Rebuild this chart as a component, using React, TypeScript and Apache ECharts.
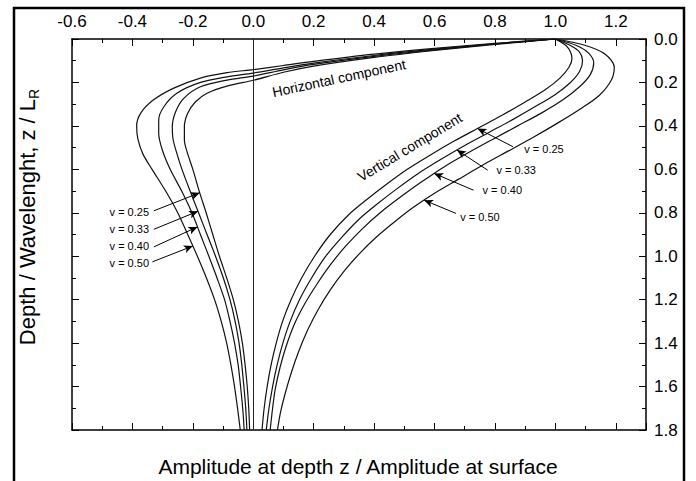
import React, { useEffect, useRef } from "react";
import * as echarts from "echarts";

// Amplitude (x) vs depth z/L_R (y)
const horizontal025 = [[1,0],[0.8,0.025],[0.6,0.053],[0.4,0.085],[0.2,0.125],[0.1,0.153],[0,0.19],[-0.087,0.217],[-0.153,0.25],[-0.191,0.289],[-0.217,0.342],[-0.228,0.404],[-0.228,0.465],[-0.219,0.52],[-0.2,0.6],[-0.179,0.7],[-0.156,0.8],[-0.134,0.9],[-0.112,1.0],[-0.088,1.1],[-0.066,1.2],[-0.049,1.3],[-0.036,1.4],[-0.027,1.5],[-0.02,1.6],[-0.015,1.7],[-0.012,1.8]];
const horizontal033 = [[1,0],[0.8,0.023],[0.6,0.05],[0.4,0.08],[0.2,0.117],[0.1,0.142],[0,0.171],[-0.087,0.189],[-0.175,0.22],[-0.23,0.273],[-0.257,0.335],[-0.268,0.404],[-0.265,0.465],[-0.25,0.54],[-0.236,0.6],[-0.209,0.7],[-0.181,0.8],[-0.153,0.9],[-0.125,1.0],[-0.099,1.1],[-0.077,1.2],[-0.06,1.3],[-0.047,1.4],[-0.038,1.5],[-0.031,1.6],[-0.025,1.7],[-0.021,1.8]];
const horizontal040 = [[1,0],[0.8,0.022],[0.6,0.047],[0.4,0.076],[0.2,0.111],[0.1,0.133],[0,0.157],[-0.087,0.174],[-0.175,0.2],[-0.253,0.25],[-0.296,0.312],[-0.313,0.373],[-0.313,0.435],[-0.301,0.511],[-0.275,0.6],[-0.237,0.7],[-0.203,0.8],[-0.175,0.9],[-0.147,1.0],[-0.12,1.1],[-0.095,1.2],[-0.077,1.3],[-0.062,1.4],[-0.05,1.5],[-0.042,1.6],[-0.035,1.7],[-0.03,1.8]];
const horizontal050 = [[1,0],[0.8,0.02],[0.6,0.043],[0.4,0.07],[0.2,0.103],[0.1,0.122],[0,0.141],[-0.087,0.155],[-0.175,0.18],[-0.263,0.226],[-0.33,0.28],[-0.372,0.34],[-0.386,0.4],[-0.382,0.46],[-0.365,0.53],[-0.335,0.6],[-0.29,0.7],[-0.25,0.8],[-0.217,0.9],[-0.185,1.0],[-0.155,1.1],[-0.128,1.2],[-0.106,1.3],[-0.088,1.4],[-0.074,1.5],[-0.062,1.6],[-0.052,1.7],[-0.043,1.8]];

const vertical025 = [[1,0],[1.035,0.03],[1.05,0.06],[1.055,0.09],[1.045,0.13],[1.015,0.18],[0.965,0.235],[0.9,0.29],[0.825,0.35],[0.745,0.41],[0.665,0.47],[0.585,0.535],[0.51,0.6],[0.44,0.67],[0.375,0.74],[0.315,0.81],[0.255,0.9],[0.203,1.0],[0.16,1.1],[0.125,1.2],[0.097,1.3],[0.076,1.4],[0.059,1.5],[0.046,1.6],[0.036,1.7],[0.029,1.8]];
const vertical033 = [[1,0],[1.05,0.03],[1.08,0.06],[1.09,0.1],[1.08,0.15],[1.05,0.2],[1.0,0.255],[0.935,0.31],[0.86,0.37],[0.78,0.43],[0.7,0.49],[0.62,0.555],[0.545,0.62],[0.475,0.69],[0.41,0.76],[0.35,0.83],[0.295,0.91],[0.24,1.0],[0.193,1.1],[0.153,1.2],[0.122,1.3],[0.098,1.4],[0.079,1.5],[0.064,1.6],[0.052,1.7],[0.043,1.8]];
const vertical040 = [[1,0],[1.07,0.03],[1.11,0.065],[1.127,0.11],[1.115,0.165],[1.08,0.22],[1.025,0.28],[0.955,0.34],[0.875,0.4],[0.795,0.46],[0.71,0.525],[0.63,0.59],[0.555,0.66],[0.485,0.73],[0.42,0.8],[0.36,0.875],[0.305,0.955],[0.255,1.04],[0.21,1.13],[0.17,1.22],[0.137,1.31],[0.11,1.41],[0.089,1.51],[0.073,1.61],[0.064,1.7],[0.056,1.8]];
const vertical050 = [[1,0],[1.1,0.03],[1.165,0.07],[1.195,0.13],[1.185,0.19],[1.145,0.26],[1.085,0.32],[1.01,0.385],[0.93,0.45],[0.845,0.515],[0.76,0.58],[0.68,0.645],[0.6,0.71],[0.53,0.775],[0.465,0.845],[0.405,0.915],[0.35,0.99],[0.3,1.07],[0.255,1.155],[0.215,1.245],[0.18,1.34],[0.15,1.44],[0.125,1.54],[0.104,1.64],[0.09,1.72],[0.08,1.8]];

const nuLabels = ["v = 0.25", "v = 0.33", "v = 0.40", "v = 0.50"];
// arrow tails (data coords) and the depths at which the arrow heads meet their curves
const leftArrowTails = [[-0.329,0.791],[-0.329,0.876],[-0.329,0.957],[-0.334,1.026]];
const leftArrowDepths = [0.708, 0.793, 0.865, 0.953];
const leftLabelPos = [[-0.345,0.797],[-0.345,0.873],[-0.345,0.951],[-0.345,1.03]];
const rightArrowTails = [[0.86,0.496],[0.776,0.604],[0.729,0.696],[0.671,0.803]];
const rightArrowDepths = [0.412, 0.511, 0.619, 0.742];
const rightLabelPos = [[0.897,0.508],[0.805,0.604],[0.759,0.696],[0.685,0.819]];

const xTitle = "Amplitude at depth z / Amplitude at surface";
const yTitle = "Depth / Wavelenght, z / L";
const FONT = "'Liberation Sans', Arial, sans-serif";

// x of a curve at depth z on its lower branch (z above zMin)
function xAt(curve: number[][], z: number, zMin: number) {
  for (let i = 1; i < curve.length; i++) {
    const a = curve[i - 1], b = curve[i];
    if (a[1] >= zMin && a[1] <= z && b[1] >= z) {
      const t = (z - a[1]) / (b[1] - a[1]);
      return a[0] + t * (b[0] - a[0]);
    }
  }
  return curve[curve.length - 1][0];
}

export default function App() {
  const ref = useRef<HTMLDivElement>(null);
  useEffect(() => {
    const chart = echarts.init(ref.current!, null, { renderer: "svg" });
    const fmt = (v: number) => (Math.abs(v) < 1e-9 ? "0.0" : v.toFixed(1));
    const xBase = {
      type: "value", min: -0.6, max: 1.3, interval: 0.2,
      axisLine: { show: true, onZero: false, lineStyle: { color: "#000", width: 1.5 } },
      axisTick: { show: true, inside: true, length: 7, lineStyle: { color: "#000" } },
      minorTick: { show: true, splitNumber: 2, length: 4, lineStyle: { color: "#000" } },
      splitLine: { show: false },
    };
    const yBase = {
      type: "value", min: 0, max: 1.8, interval: 0.2, inverse: true,
      axisLine: { show: true, onZero: false, lineStyle: { color: "#000", width: 1.5 } },
      axisTick: { show: true, inside: true, length: 7, lineStyle: { color: "#000" } },
      minorTick: { show: true, splitNumber: 2, length: 4, lineStyle: { color: "#000" } },
      splitLine: { show: false },
    };
    const curve = (data: number[][]) => ({
      type: "line", data, showSymbol: false, symbol: "none", smooth: 0.3,
      lineStyle: { color: "#111", width: 1.2 }, silent: true,
    });
    const hCurves = [horizontal025, horizontal033, horizontal040, horizontal050];
    const vCurves = [vertical025, vertical033, vertical040, vertical050];
    const arrowPairs = [
      ...leftArrowTails.map((t, i) => [
        { coord: t }, { coord: [xAt(hCurves[i], leftArrowDepths[i], 0.45), leftArrowDepths[i]] },
      ]),
      ...rightArrowTails.map((t, i) => [
        { coord: t }, { coord: [xAt(vCurves[i], rightArrowDepths[i], 0.2), rightArrowDepths[i]] },
      ]),
    ];
    chart.setOption({
      animation: false,
      textStyle: { fontFamily: FONT },
      grid: { left: 72, right: 50, top: 39, bottom: 51 },
      xAxis: [
        { ...xBase, position: "top",
          axisLabel: { show: true, formatter: fmt, fontSize: 17, color: "#000", margin: 9, showMaxLabel: false, fontFamily: FONT } },
        { ...xBase, position: "bottom", axisLabel: { show: false } },
      ],
      yAxis: [
        { ...yBase, position: "right",
          axisLabel: { show: true, formatter: fmt, fontSize: 17, color: "#000", margin: 8, fontFamily: FONT } },
        { ...yBase, position: "left", axisLabel: { show: false } },
      ],
      series: [
        { ...curve(horizontal025),
          markLine: { silent: true, symbol: ["none", "none"], label: { show: false },
            lineStyle: { color: "#222", width: 1, type: "solid" }, data: [{ xAxis: 0 }] } },
        curve(horizontal033),
        curve(horizontal040),
        curve(horizontal050),
        { ...curve(vertical025),
          markLine: { silent: true, symbol: ["none", "arrow"], symbolSize: [6, 9], label: { show: false },
            lineStyle: { color: "#000", width: 1, type: "solid" }, data: arrowPairs } },
        curve(vertical033),
        curve(vertical040),
        curve(vertical050),
      ],
    });

    const px = (p: number[]) => chart.convertToPixel({ seriesIndex: 0 }, p) as number[];
    const g: any[] = [];
    g.push({ type: "rect", shape: { x: 14, y: 8, width: 670, height: 500 },
      style: { fill: "none", stroke: "#000", lineWidth: 2.5 }, silent: true });
    g.push({ type: "text", x: 358, y: 466,
      style: { text: xTitle, fontSize: 21, fontFamily: FONT, fill: "#000", align: "center", verticalAlign: "middle" } });
    g.push({ type: "text", x: 27, y: 217, rotation: Math.PI / 2,
      style: { text: yTitle + "{s|R}", fontSize: 22, fontFamily: FONT, fill: "#000", align: "center", verticalAlign: "middle",
        rich: { s: { fontSize: 14, fontFamily: FONT, fill: "#000", verticalAlign: "bottom", padding: [0, 0, -3, 0] } } } });
    const hp = px([0.284, 0.18]);
    g.push({ type: "text", x: hp[0], y: hp[1], rotation: (12 * Math.PI) / 180,
      style: { text: "Horizontal component", fontSize: 14, fontFamily: FONT, fill: "#000", align: "center", verticalAlign: "middle" } });
    const vp = px([0.518, 0.498]);
    g.push({ type: "text", x: vp[0], y: vp[1], rotation: (31 * Math.PI) / 180,
      style: { text: "Vertical component", fontSize: 14, fontFamily: FONT, fill: "#000", align: "center", verticalAlign: "middle" } });
    leftLabelPos.forEach((p, i) => {
      const q = px(p);
      g.push({ type: "text", x: q[0], y: q[1],
        style: { text: nuLabels[i], fontSize: 11, fontFamily: FONT, fill: "#000", align: "right", verticalAlign: "middle" } });
    });
    rightLabelPos.forEach((p, i) => {
      const q = px(p);
      g.push({ type: "text", x: q[0], y: q[1],
        style: { text: nuLabels[i], fontSize: 11, fontFamily: FONT, fill: "#000", align: "left", verticalAlign: "middle" } });
    });
    chart.setOption({ graphic: g });
    return () => chart.dispose();
  }, []);
  return (
    <div ref={ref} style={{ position: "fixed", left: 0, top: 0, width: 696, height: 481, background: "#fff" }} />
  );
}
